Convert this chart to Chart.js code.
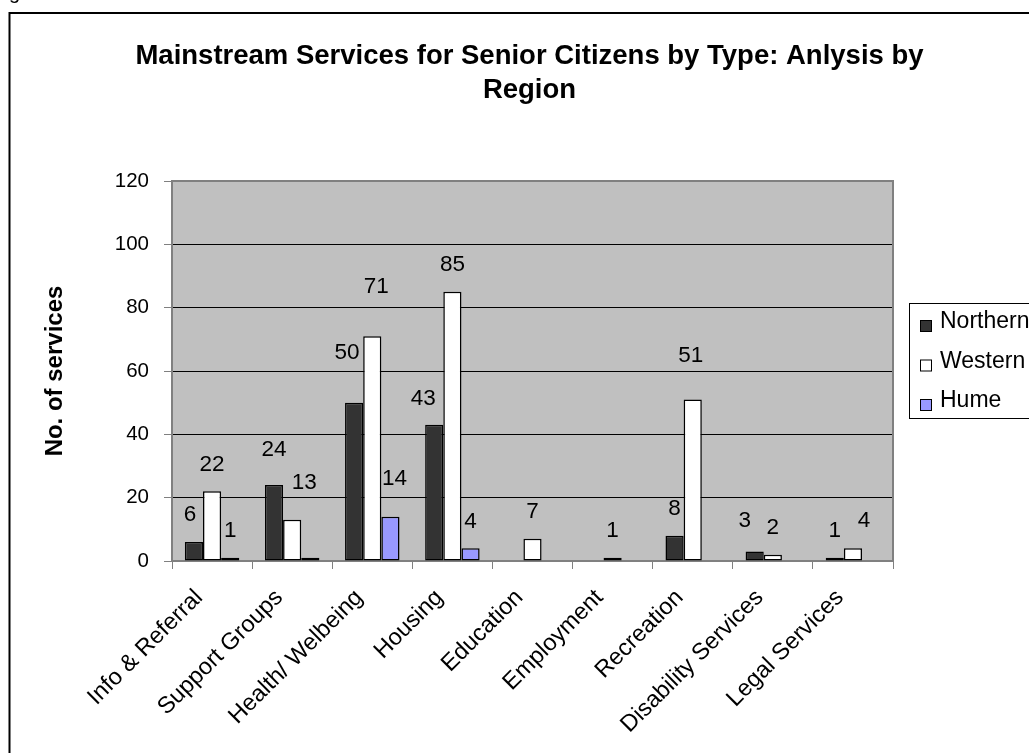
<!DOCTYPE html>
<html>
<head>
<meta charset="utf-8">
<title>Mainstream Services for Senior Citizens by Type</title>
<script src="https://cdn.jsdelivr.net/npm/chart.js@4.4.1/dist/chart.umd.min.js"></script>
<style>
  html, body { margin: 0; padding: 0; background: #fff; overflow: hidden; }
  #wrap { width: 1029px; height: 753px; }
</style>
</head>
<body>
<div id="wrap"><canvas id="servicesChart" width="1029" height="753"></canvas></div>
<script>
/* ---- data ---- */
const serviceTypes = ['Info & Referral', 'Support Groups', 'Health/ Welbeing', 'Housing', 'Education',
                      'Employment', 'Recreation', 'Disability Services', 'Legal Services'];
const northern = [6, 24, 50, 43, null, null, 8, 3, 1];
const western  = [22, 13, 71, 85, 7, 1, 51, 2, 4];
const hume     = [1, 1, 14, 4, null, null, null, null, null];
const yTicks   = [0, 20, 40, 60, 80, 100, 120];

const heading = ['Mainstream Services for Senior Citizens by Type: Anlysis by', 'Region'];

const FONT = "'Liberation Sans', Arial, Helvetica, sans-serif";

// value labels sit ~27px over the bar top; a few were dragged around by hand
const labelNudge = {
  '0-0': [-4, 0],  '0-1': [0, -8],   '1-1': [12, -10], '0-2': [-7, -23], '1-2': [4, -22],
  '2-2': [4, -11], '0-3': [-11, 1],  '1-6': [-2, -17], '0-7': [-10, -4], '1-8': [11, -1]
};
const hiddenLabels = ['2-1'];

/* ---- plugins ---- */
const pageFrame = {
  id: 'pageFrame',
  beforeDraw(chart) {
    const { ctx, chartArea: a } = chart;
    ctx.save();
    ctx.fillStyle = '#fff';
    ctx.fillRect(0, 0, chart.width, chart.height);
    // caption line above the frame, only its descender shows
    ctx.fillStyle = '#000';
    ctx.font = '20px ' + FONT;
    ctx.textBaseline = 'alphabetic';
    ctx.fillText('g', 9, -1);
    // outer border (runs off the right and bottom)
    ctx.strokeStyle = '#000';
    ctx.lineWidth = 2;
    ctx.strokeRect(9.5, 13, 2000, 2000);
    // grey plot area
    ctx.fillStyle = '#c0c0c0';
    ctx.fillRect(a.left, a.top, a.right - a.left, a.bottom - a.top);
    // two-line heading, a little left of the plot centre and wider than it
    ctx.fillStyle = '#000';
    ctx.font = 'bold 27.5px ' + FONT;
    ctx.textAlign = 'center';
    ctx.textBaseline = 'middle';
    const cx = (a.left + a.right) / 2 - 3;
    heading.forEach((line, i) => ctx.fillText(line, cx, 56 + i * 34));
    ctx.restore();
  },
  beforeDatasetsDraw(chart) {
    const { ctx, chartArea: a } = chart;
    ctx.save();
    ctx.strokeStyle = '#808080';
    ctx.lineWidth = 2;
    ctx.beginPath();
    ctx.moveTo(a.left, a.top);
    ctx.lineTo(a.right, a.top);
    ctx.lineTo(a.right, a.bottom);
    ctx.stroke();
    ctx.restore();
  }
};

const valueLabels = {
  id: 'valueLabels',
  afterDatasetsDraw(chart) {
    const ctx = chart.ctx;
    ctx.save();
    ctx.font = '22.5px ' + FONT;
    ctx.fillStyle = '#000';
    ctx.textAlign = 'center';
    ctx.textBaseline = 'middle';
    chart.data.datasets.forEach((ds, i) => {
      chart.getDatasetMeta(i).data.forEach((bar, j) => {
        const v = ds.data[j];
        const key = i + '-' + j;
        if (v == null || hiddenLabels.includes(key)) return;
        const [dx, dy] = labelNudge[key] || [0, 0];
        ctx.fillText(String(v), bar.x + dx, bar.y - 27 + dy);
      });
    });
    ctx.restore();
  }
};

const sideLegend = {
  id: 'sideLegend',
  afterDraw(chart) {
    const { ctx, chartArea: a } = chart;
    const x = a.right + 16;
    const top = 303, h = 115;
    ctx.save();
    ctx.fillStyle = '#fff';
    ctx.fillRect(x, top, 300, h);
    ctx.strokeStyle = '#000';
    ctx.lineWidth = 1;
    ctx.strokeRect(x + 0.5, top + 0.5, 300, h);
    ctx.font = '23px ' + FONT;
    ctx.textBaseline = 'middle';
    chart.data.datasets.forEach((ds, i) => {
      const cy = top + 18 + i * 39.5;
      ctx.fillStyle = ds.backgroundColor;
      ctx.fillRect(x + 11, cy - 1, 12, 12);
      ctx.strokeRect(x + 11.5, cy - 0.5, 11, 11);
      ctx.fillStyle = '#000';
      ctx.fillText(ds.label, x + 31, cy + 1);
    });
    ctx.restore();
  }
};

/* ---- chart ---- */
new Chart(document.getElementById('servicesChart'), {
  type: 'bar',
  data: {
    labels: serviceTypes,
    datasets: [
      { label: 'Northern', data: northern, backgroundColor: '#333333' },
      { label: 'Western',  data: western,  backgroundColor: '#ffffff' },
      { label: 'Hume',     data: hume,     backgroundColor: '#9999ff' }
    ]
  },
  options: {
    responsive: false,
    animation: false,
    devicePixelRatio: 1,
    layout: { padding: { left: 10, right: 136, top: 181, bottom: 0 } },
    datasets: {
      bar: { borderColor: '#000', borderWidth: 1.5, borderSkipped: false, categoryPercentage: 0.68, barPercentage: 1 }
    },
    plugins: {
      legend: { display: false },
      tooltip: { enabled: false },
      title: { display: false }
    },
    scales: {
      x: {
        grid: { drawOnChartArea: false, tickLength: 8, color: '#808080' },
        border: { color: '#808080', width: 2 },
        ticks: {
          color: '#000', font: { family: FONT, size: 23.5 },
          minRotation: 45, maxRotation: 45, padding: 15, labelOffset: -13, autoSkip: false
        },
        afterFit(scale) { scale.height = 192; }
      },
      y: {
        min: yTicks[0],
        max: yTicks[yTicks.length - 1],
        ticks: { stepSize: yTicks[1] - yTicks[0], color: '#000', font: { family: FONT, size: 20.5 }, padding: 15 },
        grid: { color: '#000', lineWidth: 1, tickLength: 8, tickColor: '#808080' },
        border: { color: '#808080', width: 2 },
        title: {
          display: true, text: 'No. of services', color: '#000',
          font: { family: FONT, size: 24, weight: 'bold' },
          padding: { top: 31, bottom: 0 }
        },
        afterFit(scale) { scale.width = 162; }
      }
    }
  },
  plugins: [pageFrame, valueLabels, sideLegend]
});
</script>
</body>
</html>
